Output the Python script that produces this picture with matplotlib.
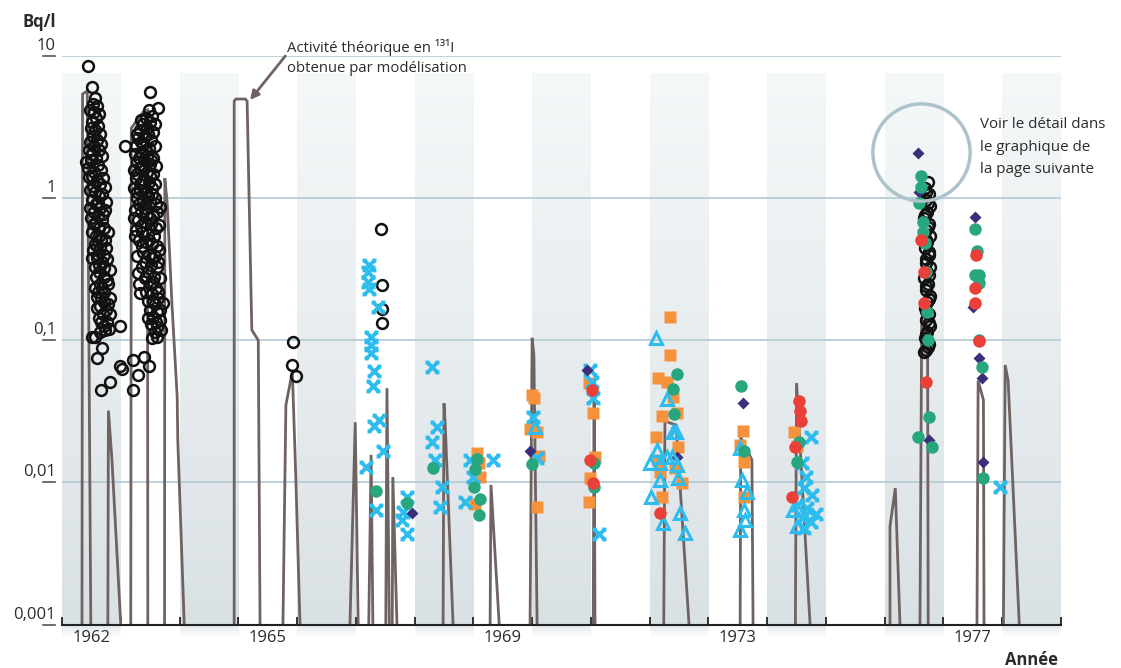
import numpy as np
import matplotlib
matplotlib.use("Agg")
import matplotlib.pyplot as plt
from matplotlib.path import Path

plt.rcParams['font.family'] = ['Open Sans', 'DejaVu Sans']

# ---- données (année, Bq/l) ----

# activité théorique modélisée : un segment par épisode
model_segments = [
    ([1962.34, 1962.35, 1962.43, 1962.49], [0.001, 5.40, 5.68, 0.001]),
    ([1962.78, 1962.79, 1962.85, 1963.00], [0.001, 0.032, 0.0144, 0.001]),
    ([1963.17, 1963.18, 1963.38, 1963.455, 1963.46], [0.001, 3.11, 4.03, 4.17, 0.001]),
    ([1963.745, 1963.75, 1963.79, 1963.87, 1963.96, 1963.97, 1964.08],
     [0.001, 1.38, 0.925, 0.183, 0.040, 0.020, 0.001]),
    ([1964.93, 1964.93, 1964.96, 1965.12, 1965.15, 1965.23, 1965.34, 1965.37],
     [0.001, 4.82, 4.98, 4.98, 4.82, 0.118, 0.100, 0.001]),
    ([1965.76, 1965.81, 1965.92, 1965.98, 1966.05], [0.001, 0.035, 0.060, 0.0104, 0.001]),
    ([1966.90, 1966.99, 1967.04], [0.001, 0.0265, 0.001]),
    ([1967.22, 1967.26, 1967.29], [0.001, 0.0156, 0.001]),
    ([1967.51, 1967.53, 1967.57], [0.001, 0.046, 0.001]),
    ([1967.62, 1967.63, 1967.70], [0.001, 0.0109, 0.001]),
    ([1968.485, 1968.50, 1968.52, 1968.655], [0.001, 0.036, 0.0265, 0.001]),
    ([1969.285, 1969.30, 1969.44], [0.001, 0.0096, 0.001]),
    ([1969.965, 1970.00, 1970.03, 1970.085], [0.001, 0.104, 0.079, 0.001]),
    ([1971.04, 1971.055, 1971.07], [0.001, 0.052, 0.001]),
    ([1972.24, 1972.26, 1972.45, 1972.67], [0.001, 0.027, 0.0253, 0.001]),
    ([1973.54, 1973.55, 1973.74, 1973.76], [0.001, 0.0208, 0.0144, 0.001]),
    ([1974.48, 1974.50, 1974.73], [0.001, 0.050, 0.001]),
    ([1976.09, 1976.09, 1976.18, 1976.26], [0.001, 0.0049, 0.0091, 0.001]),
    ([1976.60, 1976.63, 1976.73, 1976.74], [0.001, 0.146, 0.0895, 0.001]),
    ([1977.57, 1977.59, 1977.68, 1977.69], [0.001, 0.052, 0.038, 0.001]),
    ([1978.02, 1978.05, 1978.10, 1978.29], [0.001, 0.067, 0.052, 0.001]),
]

# mesures : cercles noirs
circ_x = [
    # 1962
    1962.44, 1962.51, 1962.56, 1962.53, 1962.60, 1962.54, 1962.58, 1962.51, 1962.61, 1962.56,
    1962.53, 1962.60, 1962.54, 1962.63, 1962.51, 1962.58, 1962.41, 1962.44, 1962.61, 1962.54,
    1962.46, 1962.60, 1962.53, 1962.65, 1962.73, 1962.56, 1962.63, 1962.51, 1962.58, 1962.75,
    1962.65, 1962.54, 1962.73, 1962.61, 1962.68, 1962.54, 1962.63, 1962.78, 1962.58, 1962.66,
    1962.56, 1962.53, 1962.65, 1962.71, 1962.60, 1962.68, 1962.56, 1962.82, 1962.63, 1962.71,
    1962.65, 1962.77, 1962.68, 1962.61, 1962.60, 1962.82, 1962.71, 1962.65, 1962.75, 1962.70,
    1962.63, 1962.77, 1962.71, 1962.73, 1962.56, 1962.99, 1962.51, 1962.68, 1962.60, 1962.99,
    1963.02, 1962.82, 1962.66, 1963.07,
    1962.48, 1962.63, 1962.49, 1962.65, 1962.48, 1962.66, 1962.46, 1962.68, 1962.49, 1962.66,
    1962.51, 1962.70, 1962.48, 1962.68, 1962.61, 1962.48, 1962.70, 1962.49, 1962.58, 1962.71,
    1962.51, 1962.63, 1962.73, 1962.60, 1962.75, 1962.61, 1962.51, 1962.77, 1962.63, 1962.71,
    1962.58, 1962.78, 1962.56, 1962.71, 1962.66, 1962.78, 1962.60, 1962.82, 1962.66, 1962.80,
    1962.65,
    # 1963
    1963.50, 1963.63, 1963.48, 1963.43, 1963.53, 1963.38, 1963.50, 1963.33, 1963.45, 1963.55,
    1963.29, 1963.41, 1963.52, 1963.26, 1963.38, 1963.48, 1963.58, 1963.24, 1963.34, 1963.45,
    1963.55, 1963.28, 1963.40, 1963.50, 1963.60, 1963.23, 1963.33, 1963.45, 1963.55, 1963.26,
    1963.38, 1963.48, 1963.58, 1963.23, 1963.33, 1963.43, 1963.53, 1963.28, 1963.38, 1963.50,
    1963.60, 1963.67, 1963.24, 1963.34, 1963.45, 1963.55, 1963.29, 1963.41, 1963.52, 1963.65,
    1963.26, 1963.36, 1963.46, 1963.57, 1963.31, 1963.43, 1963.53, 1963.62, 1963.38, 1963.48,
    1963.58, 1963.41, 1963.52, 1963.62, 1963.29, 1963.46, 1963.57, 1963.67, 1963.31, 1963.50,
    1963.60, 1963.33, 1963.53, 1963.63, 1963.46, 1963.58, 1963.72, 1963.50, 1963.62, 1963.55,
    1963.67, 1963.52, 1963.62, 1963.58, 1963.62, 1963.21, 1963.40, 1963.48, 1963.29, 1963.21,
    1963.34, 1963.58, 1963.28, 1963.46, 1963.34, 1963.43, 1963.31, 1963.52, 1963.36, 1963.28,
    1963.50, 1963.33, 1963.53, 1963.28, 1963.46, 1963.58, 1963.31, 1963.41, 1963.62, 1963.23,
    1963.50, 1963.34, 1963.60, 1963.24, 1963.48, 1963.36, 1963.65, 1963.28, 1963.53, 1963.36,
    1963.63, 1963.41, 1963.55, 1963.63, 1963.43, 1963.55, 1963.67, 1963.46, 1963.60, 1963.68,
    1963.53,
    # 1965 - 1967
    1965.93, 1965.91, 1965.98, 1967.43, 1967.45, 1967.45, 1967.45,
    # 1976
    1976.74, 1976.69, 1976.76, 1976.71, 1976.77, 1976.72, 1976.67, 1976.76, 1976.71, 1976.77,
    1976.72, 1976.69, 1976.76, 1976.71, 1976.77, 1976.72, 1976.67, 1976.74, 1976.71, 1976.77,
    1976.72, 1976.69, 1976.76, 1976.71, 1976.77, 1976.72, 1976.69, 1976.76, 1976.71, 1976.67,
    1976.70, 1976.74, 1976.69, 1976.74, 1976.70, 1976.75, 1976.70, 1976.75, 1976.70, 1976.75,
    1976.70, 1976.75, 1976.70, 1976.74,
]
circ_y = [
    # 1962
    8.5, 6.05, 5.06, 4.59, 4.45, 4.03, 3.66, 3.43, 3.22, 3.02,
    2.73, 2.56, 2.33, 2.18, 2.04, 1.92, 1.80, 1.63, 1.71, 1.53,
    1.41, 1.34, 1.22, 1.26, 1.20, 1.10, 1.03, 0.97, 0.91, 0.94,
    0.85, 0.80, 0.82, 0.75, 0.70, 0.66, 0.62, 0.58, 0.54, 0.51,
    0.475, 0.43, 0.446, 0.40, 0.38, 0.355, 0.33, 0.31, 0.30, 0.28,
    0.25, 0.265, 0.233, 0.218, 0.20, 0.198, 0.186, 0.174, 0.163, 0.153,
    0.143, 0.134, 0.126, 0.118, 0.105, 0.126, 0.105, 0.088, 0.075, 0.066,
    0.063, 0.051, 0.045, 2.33,
    4.17, 3.89, 3.11, 2.82, 2.49, 2.40, 2.18, 1.98, 1.85, 1.58,
    1.43, 1.38, 1.14, 1.07, 0.94, 0.85, 0.77, 0.72, 0.68, 0.62,
    0.58, 0.54, 0.51, 0.46, 0.446, 0.40, 0.38, 0.37, 0.34, 0.32,
    0.28, 0.249, 0.233, 0.218, 0.198, 0.18, 0.169, 0.153, 0.134, 0.12,
    0.114,
    # 1963
    5.58, 4.31, 4.17, 3.66, 3.78, 3.32, 3.43, 3.02, 3.11, 2.92,
    2.65, 2.73, 2.56, 2.33, 2.40, 2.25, 2.33, 2.04, 2.11, 1.98,
    1.92, 1.80, 1.85, 1.74, 1.68, 1.58, 1.63, 1.53, 1.48, 1.38,
    1.34, 1.30, 1.26, 1.18, 1.14, 1.10, 1.07, 1.00, 0.97, 0.94,
    0.91, 0.865, 0.82, 0.80, 0.77, 0.75, 0.70, 0.68, 0.66, 0.65,
    0.60, 0.58, 0.56, 0.54, 0.51, 0.49, 0.475, 0.46, 0.42, 0.40,
    0.39, 0.355, 0.34, 0.33, 0.297, 0.30, 0.28, 0.274, 0.25, 0.249,
    0.233, 0.215, 0.211, 0.198, 0.19, 0.18, 0.183, 0.163, 0.158, 0.146,
    0.139, 0.13, 0.124, 0.114, 0.105, 0.073, 0.076, 0.066, 0.057, 0.045,
    3.55, 3.32, 2.82, 2.82, 2.48, 2.18, 1.92, 1.85, 1.68, 1.48,
    1.43, 1.26, 1.18, 1.10, 1.03, 1.00, 0.91, 0.85, 0.80, 0.72,
    0.72, 0.64, 0.62, 0.54, 0.51, 0.46, 0.43, 0.39, 0.38, 0.33,
    0.355, 0.274, 0.256, 0.218, 0.218, 0.19, 0.163, 0.143, 0.134, 0.118,
    0.103,
    # 1965 - 1967
    0.097, 0.067, 0.056, 0.61, 0.245, 0.166, 0.132,
    # 1976
    1.30, 1.18, 1.07, 0.97, 0.88, 0.80, 0.72, 0.66, 0.60, 0.54,
    0.49, 0.446, 0.40, 0.37, 0.33, 0.30, 0.274, 0.249, 0.225, 0.205,
    0.186, 0.169, 0.153, 0.139, 0.126, 0.114, 0.104, 0.094, 0.085, 0.083,
    1.10, 0.92, 0.76, 0.63, 0.51, 0.42, 0.35, 0.29, 0.24, 0.195,
    0.16, 0.132, 0.11, 0.09,
]

# croix bleues
cross_x = [1967.23, 1967.21, 1967.21, 1967.23, 1967.37, 1967.25, 1967.25, 1967.25, 1967.31, 1967.29,
           1967.40, 1967.31, 1967.46, 1967.17, 1967.34, 1967.87, 1967.81, 1967.78, 1967.87,
           1968.29, 1968.38, 1968.29, 1968.35, 1968.46, 1968.43, 1968.94, 1969.00, 1968.86, 1969.34,
           1970.02, 1970.08, 1970.99, 1971.02, 1971.04, 1971.13,
           1974.75, 1974.59, 1974.66, 1974.63, 1974.77, 1974.51, 1974.68, 1974.83, 1974.59, 1974.75,
           1974.63, 1977.96]
cross_y = [0.338, 0.303, 0.258, 0.228, 0.171, 0.106, 0.093, 0.081, 0.061, 0.048,
           0.0275, 0.0249, 0.0167, 0.0129, 0.0064, 0.0079, 0.0062, 0.0054, 0.0043,
           0.065, 0.0246, 0.0193, 0.0144, 0.0093, 0.0067, 0.0144, 0.0109, 0.0073, 0.0144,
           0.029, 0.0148, 0.062, 0.051, 0.039, 0.0043,
           0.0208, 0.0137, 0.0109, 0.0091, 0.0081, 0.0069, 0.0066, 0.0060, 0.0056, 0.0053,
           0.0048, 0.0093]

# triangles bleus
tri_x = [1970.05, 1972.11, 1972.30, 1972.40, 1972.45, 1972.12, 1972.01, 1972.18, 1972.29, 1972.38,
         1972.46, 1972.17, 1972.49, 1972.02, 1972.52, 1972.23, 1972.60,
         1973.54, 1973.57, 1973.65, 1973.60, 1973.62, 1973.54, 1974.44, 1974.51]
tri_y = [0.0246, 0.103, 0.0384, 0.0227, 0.0227, 0.0169, 0.0137, 0.0137, 0.0151, 0.0151,
         0.0132, 0.0104, 0.0107, 0.0079, 0.0061, 0.0052, 0.0044,
         0.0174, 0.0104, 0.0086, 0.0064, 0.0054, 0.0046, 0.0064, 0.0049]

# carrés orange
sq_x = [1969.99, 1970.03, 1969.97, 1970.08, 1970.11, 1970.08, 1969.06, 1969.10, 1969.11, 1969.03,
        1970.97, 1971.03, 1971.07, 1970.99, 1970.96,
        1972.35, 1972.35, 1972.14, 1972.30, 1972.40, 1972.21, 1972.46, 1972.11, 1972.49, 1972.15,
        1972.43, 1972.18, 1972.55, 1972.21,
        1973.59, 1973.54, 1973.60, 1973.60, 1974.46, 1974.51]
sq_y = [0.041, 0.039, 0.0236, 0.0227, 0.0153, 0.0067, 0.016, 0.0136, 0.0109, 0.0071,
        0.0498, 0.0306, 0.0151, 0.0107, 0.0073,
        0.146, 0.079, 0.054, 0.051, 0.040, 0.0293, 0.0306, 0.021, 0.0178, 0.0144,
        0.0126, 0.0119, 0.0099, 0.0079,
        0.0231, 0.0183, 0.014, 0.0079, 0.0226, 0.018]

# ronds verts
green_x = [1967.34, 1967.87, 1968.32, 1969.06, 1969.03, 1969.01, 1969.11, 1969.09, 1969.99,
           1971.06, 1971.06, 1972.46, 1972.39, 1972.42, 1973.55, 1973.61, 1974.54, 1974.51,
           1976.61, 1976.61, 1976.59, 1976.65, 1976.66, 1976.69, 1976.71, 1976.72, 1976.73,
           1976.76, 1976.56, 1976.81,
           1977.54, 1977.57, 1977.53, 1977.60, 1977.61, 1977.61, 1977.65, 1977.68]
green_y = [0.0087, 0.0072, 0.0126, 0.0145, 0.0124, 0.0093, 0.0076, 0.0059, 0.0134,
           0.0136, 0.0093, 0.0575, 0.0452, 0.0301, 0.0476, 0.0166, 0.0192, 0.0139,
           1.43, 1.20, 0.918, 0.683, 0.58, 0.481, 0.303, 0.159, 0.100,
           0.029, 0.021, 0.0178,
           0.603, 0.426, 0.288, 0.288, 0.253, 0.100, 0.065, 0.0107]

# ronds rouges
red_x = [1971.02, 1970.99, 1971.04, 1972.17, 1974.54, 1974.56, 1974.58, 1974.48, 1974.42,
         1976.61, 1976.67, 1976.67, 1976.71, 1977.55, 1977.54, 1977.54, 1977.60]
red_y = [0.045, 0.0144, 0.0099, 0.0061, 0.0373, 0.032, 0.027, 0.0177, 0.0079,
         0.51, 0.303, 0.182, 0.051, 0.398, 0.232, 0.182, 0.098]

# losanges violets
dia_x = [1967.95, 1969.97, 1970.93, 1972.46, 1973.59, 1974.51,
         1976.57, 1976.59, 1976.76, 1977.53, 1977.51, 1977.61, 1977.65, 1977.68]
dia_y = [0.0061, 0.0167, 0.062, 0.0151, 0.036, 0.0137,
         2.07, 1.11, 0.020, 0.74, 0.172, 0.0746, 0.054, 0.014]

ytick_values = [10, 1, 0.1, 0.01, 0.001]
ytick_labels = ['10', '1', '0,1', '0,01', '0,001']
xtick_years = [1962, 1965, 1969, 1973, 1977]
shaded_years = [1962, 1964, 1966, 1968, 1970, 1972, 1974, 1976, 1978]

# ---- couleurs ----
c_model = '#6f6361'
c_cyan = '#2cbdee'
c_orange = '#f6923b'
c_green = '#28a77f'
c_red = '#ea4038'
c_purple = '#3b2f7c'
c_grid = '#b8ccd5'
c_text = '#2b2b2b'

fig = plt.figure(figsize=(11.21, 6.68), dpi=100)
pos = [62 / 1121, 43.5 / 668, 999 / 1121, 568.5 / 668]

# fond : bandes grisées en dégradé
ax_bg = fig.add_axes(pos, zorder=0)
ax_bg.set_xlim(1962, 1979)
ax_bg.set_ylim(-3, 1)
ax_bg.axis('off')
top_c = np.array([245, 248, 249]) / 255
bot_c = np.array([218, 225, 229]) / 255
t = np.linspace(0, 1, 200)[:, None]
grad = (top_c * (1 - t) + bot_c * t)[:, None, :]
fade_t = np.linspace(0, 1, 20)[:, None]
fade = (np.array([224, 230, 233]) / 255 * (1 - fade_t) + fade_t)[:, None, :]
for yr in shaded_years:
    ax_bg.imshow(grad, extent=[yr, yr + 1, -3.0, 0.873], aspect='auto',
                 origin='upper', interpolation='bilinear', clip_on=False)
    ax_bg.imshow(fade, extent=[yr, yr + 1, -3.09, -3.0], aspect='auto',
                 origin='upper', interpolation='bilinear', clip_on=False)

ax = fig.add_axes(pos, zorder=1)
ax.patch.set_visible(False)
ax.set_yscale('log')
ax.set_xlim(1962, 1979)
ax.set_ylim(0.001, 10)

for v in ytick_values[:-1]:
    ax.axhline(v, color=c_grid, lw=1.3, zorder=1)

for xs, ys in model_segments:
    ax.plot(xs, ys, color=c_model, lw=2, solid_joinstyle='miter', zorder=2)

ax.plot(circ_x, circ_y, ls='none', marker='o', ms=7.8, mfc='none', mec='#111111',
        mew=1.8, zorder=3, clip_on=False)

# croix à empattements
cross_marker = Path([(-1, 1), (1, -1), (-1, -1), (1, 1),
                     (-1.4, 1), (-0.6, 1), (0.6, 1), (1.4, 1),
                     (-1.4, -1), (-0.6, -1), (0.6, -1), (1.4, -1)],
                    [Path.MOVETO, Path.LINETO, Path.MOVETO, Path.LINETO,
                     Path.MOVETO, Path.LINETO, Path.MOVETO, Path.LINETO,
                     Path.MOVETO, Path.LINETO, Path.MOVETO, Path.LINETO])

ax.plot(sq_x, sq_y, ls='none', marker='s', ms=8.2, mfc=c_orange, mec='none', zorder=4)
ax.plot(cross_x, cross_y, ls='none', marker=cross_marker, ms=10, mfc='none', mec=c_cyan,
        mew=2.8, zorder=5)
ax.plot(dia_x, dia_y, ls='none', marker='D', ms=6.5, mfc=c_purple, mec='none', zorder=5.5)
ax.plot(tri_x, tri_y, ls='none', marker='^', ms=8.5, mfc='none', mec=c_cyan, mew=2.2,
        zorder=6)
ax.plot(green_x, green_y, ls='none', marker='o', ms=9, mfc=c_green, mec='none', zorder=7)
ax.plot(red_x, red_y, ls='none', marker='o', ms=9, mfc=c_red, mec='none', zorder=8)

# cercle de renvoi
ax.plot([1976.62], [2.12], marker='o', ms=70, mfc='none', mec='#aec2cb', mew=2.5,
        zorder=9, clip_on=False)

# annotation de la courbe modélisée
ax.annotate('', xy=(1965.20, 4.9), xytext=(1965.80, 10.0),
            arrowprops=dict(arrowstyle='-|>', color=c_model, lw=2, mutation_scale=13,
                            shrinkA=0, shrinkB=0), annotation_clip=False, zorder=9)
fig.text(287 / 1121, 1 - 47 / 668, 'Activité théorique en ¹³¹I', fontsize=10.7,
         color=c_text, va='center', ha='left')
fig.text(287 / 1121, 1 - 68 / 668, 'obtenue par modélisation', fontsize=10.7,
         color=c_text, va='center', ha='left')
for i, line in enumerate(['Voir le détail dans', 'le graphique de', 'la page suivante']):
    fig.text(980 / 1121, 1 - (125 + 22.5 * i) / 668, line, fontsize=10.9,
             color=c_text, va='center', ha='left')

# axes
for s in ['left', 'right', 'top']:
    ax.spines[s].set_visible(False)
ax.spines['bottom'].set_color('#222222')
ax.spines['bottom'].set_linewidth(1.5)
ax.yaxis.set_major_locator(matplotlib.ticker.NullLocator())
ax.yaxis.set_minor_locator(matplotlib.ticker.NullLocator())

ax.set_xticks(range(1962, 1980))
ax.set_xticks([y + 0.5 for y in xtick_years], minor=True)
ax.set_xticklabels([str(y) for y in xtick_years], minor=True)
ax.tick_params(axis='x', which='major', direction='in', length=6, width=1.3,
               color='#222222', labelbottom=False)
ax.tick_params(axis='x', which='minor', length=0, pad=4, labelsize=12, labelcolor=c_text)

ytr = ax.get_yaxis_transform()
for v, lbl in zip(ytick_values, ytick_labels):
    ax.plot([-19 / 999, -7 / 999], [v, v], transform=ytr, color='#555555', lw=1.2,
            clip_on=False)
    ax.annotate(lbl, xy=(-6 / 999, v), xycoords=ytr, xytext=(0, 4.3),
                textcoords='offset points', ha='right', va='baseline', fontsize=12,
                color=c_text, annotation_clip=False)

fig.text(22 / 1121, 1 - 22 / 668, 'Bq/l', fontsize=12, weight='bold', color=c_text,
         va='center', ha='left')
fig.text(1058 / 1121, 1 - 660 / 668, 'Année', fontsize=12, weight='bold', color=c_text,
         va='center', ha='right')

fig.savefig('out.png', dpi=100)
